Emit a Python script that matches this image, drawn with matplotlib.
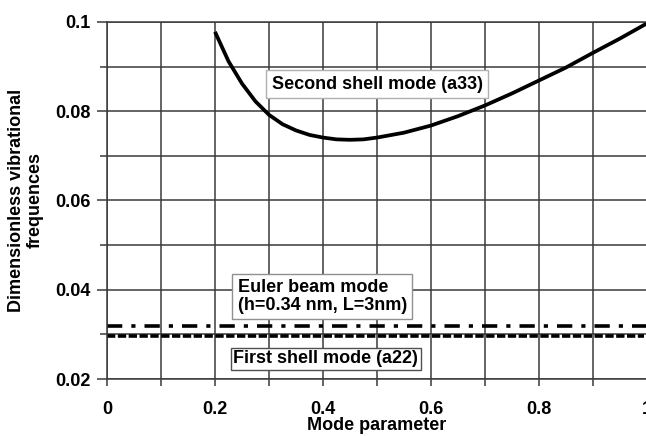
import matplotlib
matplotlib.use("Agg")
import matplotlib.pyplot as plt
from matplotlib.ticker import MultipleLocator

plt.rcParams['font.family'] = ['Liberation Sans', 'DejaVu Sans']
plt.rcParams['font.weight'] = 'bold'
plt.rcParams['lines.scale_dashes'] = False

# Data
shell2_x = [0.2, 0.225, 0.25, 0.275, 0.3, 0.325, 0.35, 0.375, 0.4, 0.425, 0.45,
            0.475, 0.5, 0.55, 0.6, 0.65, 0.7, 0.75, 0.8, 0.85, 0.9, 0.95, 1.0]
shell2_y = [0.0978, 0.0912, 0.0862, 0.0822, 0.0792, 0.0771, 0.0757, 0.0747, 0.0741,
            0.0737, 0.0736, 0.0737, 0.0741, 0.0752, 0.0768, 0.0789, 0.0813, 0.0840,
            0.0869, 0.0898, 0.0931, 0.0963, 0.0997]
euler_x = [0.0, 1.0]
euler_y = [0.0319, 0.0319]
shell1_x = [0.0, 0.995]
shell1_y = [0.0297, 0.0297]

xticks = [0, 0.2, 0.4, 0.6, 0.8, 1]
xticklabels = ['0', '0.2', '0.4', '0.6', '0.8', '1']
yticks = [0.02, 0.04, 0.06, 0.08, 0.1]
yticklabels = ['0.02', '0.04', '0.06', '0.08', '0.1']

fig = plt.figure(figsize=(6.46, 4.36), dpi=100)
ax = fig.add_axes([107/646, 1-379/436, 540/646, 357/436])

gridc = '#3a3a3a'
ax.set_xlim(0, 1)
ax.set_ylim(0.02, 0.1)
ax.xaxis.set_minor_locator(MultipleLocator(0.1))
ax.yaxis.set_minor_locator(MultipleLocator(0.01))
ax.set_xticks(xticks)
ax.set_xticklabels(xticklabels)
ax.set_yticks(yticks)
ax.set_yticklabels(yticklabels)
ax.grid(True, which='both', color=gridc, linewidth=1.1)
ax.set_axisbelow(True)
for s in ax.spines.values():
    s.set_color(gridc)
    s.set_linewidth(1.1)
ax.tick_params(axis='both', which='both', color=gridc, width=1.1, direction='out')
ax.tick_params(axis='x', which='both', length=5, pad=11, labelsize=13)
ax.tick_params(axis='y', which='major', length=7, pad=5, labelsize=13)
ax.tick_params(axis='y', which='minor', length=5)

ax.plot(shell2_x, shell2_y, color='black', linewidth=2.7, solid_capstyle='butt')
ax.plot(euler_x, euler_y, color='black', linewidth=2.6,
        dashes=(11, 6.5, 3, 6.5))
ax.plot(shell1_x, shell1_y, color='black', linewidth=2.6,
        dashes=(6, 1.8))

ax.text(0.5, 0.0861, 'Second shell mode (a33)', ha='center', va='center',
        fontsize=13, fontweight='bold',
        bbox=dict(boxstyle='square,pad=0.3', fc='white', ec='#b0b0b0', lw=1.0))
ax.text(0.242, 0.0385, 'Euler beam mode\n(h=0.34 nm, L=3nm)', ha='left', va='center',
        fontsize=13, fontweight='bold', linespacing=1.05,
        bbox=dict(boxstyle='square,pad=0.3', fc='white', ec='#909090', lw=1.0))
ax.text(0.405, 0.0245, 'First shell mode (a22)', ha='center', va='center',
        fontsize=13, fontweight='bold',
        bbox=dict(boxstyle='square,pad=0.15', fc='white', ec='#505050', lw=1.0))

ax.set_xlabel('Mode parameter', fontsize=13, fontweight='bold', labelpad=-1)
ax.set_ylabel('Dimensionless vibrational\nfrequences', fontsize=13, fontweight='bold',
              labelpad=8, linespacing=1.12)

fig.savefig('out.png', dpi=100)
